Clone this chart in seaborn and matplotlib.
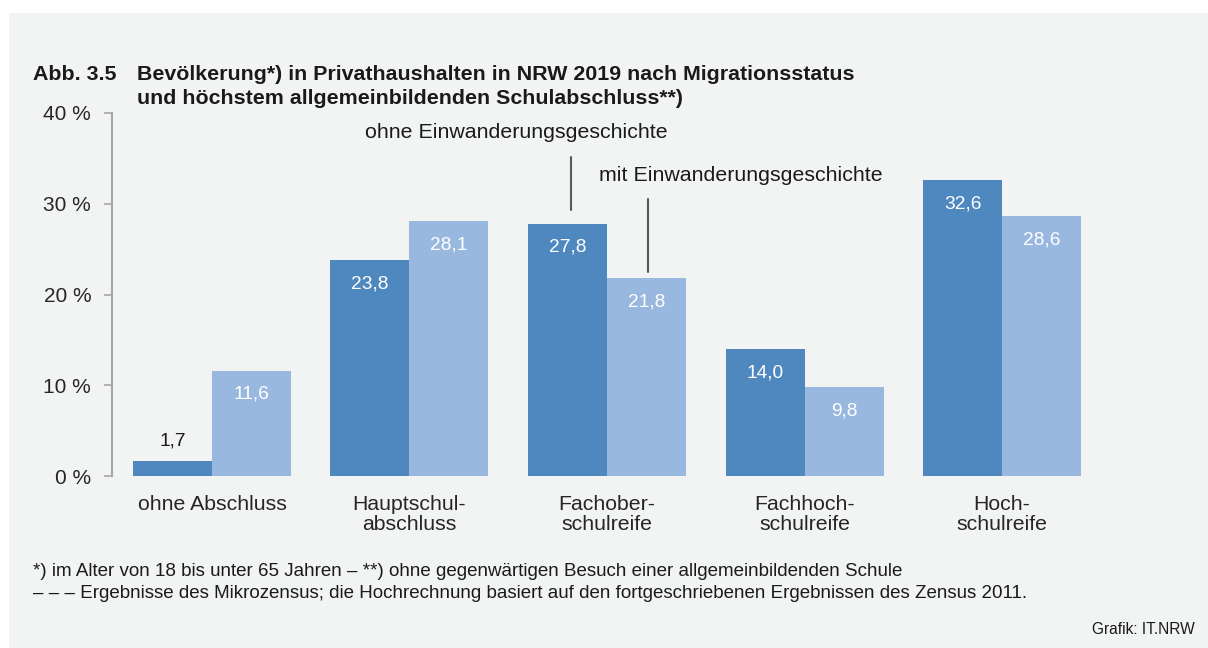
import matplotlib
matplotlib.use("Agg")
import matplotlib.pyplot as plt
import matplotlib.patches as mpatches
import seaborn as sns
import pandas as pd

categories = ["ohne Abschluss", "Hauptschul-\nabschluss", "Fachober-\nschulreife",
              "Fachhoch-\nschulreife", "Hoch-\nschulreife"]
ohne_einw = [1.7, 23.8, 27.8, 14.0, 32.6]
mit_einw = [11.6, 28.1, 21.8, 9.8, 28.6]
series = ["ohne Einwanderungsgeschichte", "mit Einwanderungsgeschichte"]
yticks = [0, 10, 20, 30, 40]

dark = "#4F88BF"
light = "#98B8DF"
bg = "#F2F4F3"

df = pd.DataFrame({
    "kategorie": categories * 2,
    "wert": ohne_einw + mit_einw,
    "gruppe": [series[0]] * 5 + [series[1]] * 5,
})

sns.set_style("white")
plt.rcParams["font.family"] = ["Liberation Sans", "DejaVu Sans"]

fig = plt.figure(figsize=(12.08, 6.48), dpi=100)
fig.patch.set_facecolor("white")
fig.patches.append(mpatches.Rectangle((9 / 1208, 0), 1 - 9 / 1208, 1 - 13 / 648,
                                      transform=fig.transFigure, facecolor=bg,
                                      edgecolor="none", zorder=-10))

ax = fig.add_axes([112 / 1208, 1 - 476 / 648, (1102 - 112) / 1208, (476 - 113) / 648])
ax.set_facecolor("none")
sns.barplot(data=df, x="kategorie", y="wert", hue="gruppe", palette=[dark, light],
            width=0.8, gap=0, saturation=1, ax=ax, legend=False, linewidth=0)

ax.set_xlim(-0.506, 4.506)
ax.set_ylim(0, 40)
ax.set_yticks(yticks)
ax.set_yticklabels([f"{t} %" for t in yticks], fontsize=15)
ax.tick_params(axis="y", length=6, width=1.2, color="#A6A6A6", pad=9, left=True)
ax.tick_params(axis="x", length=0, pad=14, labelsize=15.3)
for lab in ax.get_xticklabels():
    lab.set_linespacing(1.05)
ax.set_xlabel("")
ax.set_ylabel("")
for s in ["top", "right", "bottom"]:
    ax.spines[s].set_visible(False)
ax.spines["left"].set_color("#A6A6A6")
ax.spines["left"].set_linewidth(1.5)

# Werte in die Balken
for cont in ax.containers:
    for bar in cont:
        h = bar.get_height()
        xc = bar.get_x() + bar.get_width() / 2
        txt = f"{h:.1f}".replace(".", ",")
        if h < 5:
            ax.annotate(txt, (xc, h), xytext=(0, 8), textcoords="offset points",
                        ha="center", va="bottom", fontsize=13.8, color="#1a1a1a")
        else:
            ax.annotate(txt, (xc, h), xytext=(0, -17), textcoords="offset points",
                        ha="center", va="center", fontsize=13.8, color="white")

# Legende als Beschriftung
ax.text(1.54, 37.8, series[0], ha="center", va="center", fontsize=15.4, color="#1a1a1a")
ax.plot([1.82, 1.82], [29.3, 35.1], color="#595959", lw=1.5)
ax.text(1.96, 33.1, series[1], ha="left", va="center", fontsize=15.4, color="#1a1a1a")
ax.plot([2.21, 2.21], [22.5, 30.5], color="#595959", lw=1.5)

fig.text(33 / 1208, 1 - 75 / 648, "Abb. 3.5", fontsize=15.4, fontweight="bold",
         va="center", ha="left", color="#1a1a1a")
fig.text(137 / 1208, 1 - 75 / 648, "Bevölkerung*) in Privathaushalten in NRW 2019 nach Migrationsstatus",
         fontsize=15.4, fontweight="bold", va="center", ha="left", color="#1a1a1a")
fig.text(137 / 1208, 1 - 98 / 648, "und höchstem allgemeinbildenden Schulabschluss**)",
         fontsize=15.4, fontweight="bold", va="center", ha="left", color="#1a1a1a")

fig.text(33 / 1208, 1 - 572 / 648,
         "*) im Alter von 18 bis unter 65 Jahren – **) ohne gegenwärtigen Besuch einer allgemeinbildenden Schule",
         fontsize=13.5, va="center", ha="left", color="#1a1a1a")
fig.text(33 / 1208, 1 - 594 / 648,
         "– – – Ergebnisse des Mikrozensus; die Hochrechnung basiert auf den fortgeschriebenen Ergebnissen des Zensus 2011.",
         fontsize=13.5, va="center", ha="left", color="#1a1a1a")
fig.text(1195 / 1208, 1 - 630 / 648, "Grafik: IT.NRW", fontsize=11.2, va="center",
         ha="right", color="#1a1a1a")

fig.savefig("out.png", dpi=100, facecolor=fig.get_facecolor())
